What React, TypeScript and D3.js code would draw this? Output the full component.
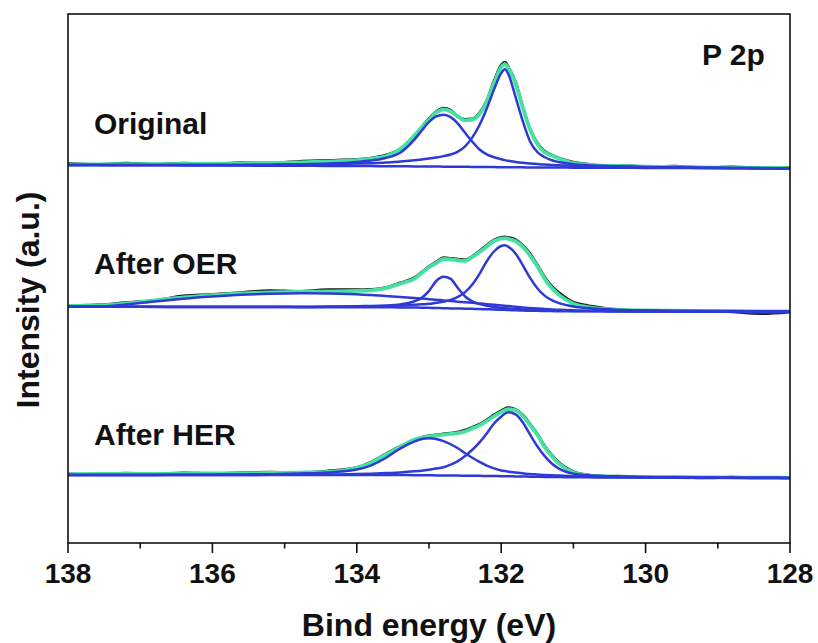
import React from "react";
import * as d3 from "d3";

// Binding energy grid (eV), descending
const energies = [138.0, 137.6, 137.2, 136.8, 136.4, 136.0, 135.6, 135.2, 134.8, 134.4, 134.0, 133.8, 133.6, 133.4, 133.2, 133.1, 133.0, 132.9, 132.8, 132.7, 132.6, 132.5, 132.4, 132.3, 132.2, 132.1, 132.0, 131.95, 131.9, 131.8, 131.7, 131.6, 131.5, 131.4, 131.3, 131.2, 131.0, 130.8, 130.6, 130.4, 130.0, 129.6, 129.2, 128.8, 128.4, 128.0];

// ---- Original (offset baseline, a.u.) ----
const originalBaseline = [378.0, 377.9, 377.8, 377.7, 377.6, 377.5, 377.4, 377.3, 377.2, 377.1, 377.0, 376.9, 376.8, 376.7, 376.6, 376.55, 376.5, 376.43, 376.37, 376.3, 376.23, 376.17, 376.1, 376.03, 375.97, 375.9, 375.83, 375.8, 375.77, 375.7, 375.63, 375.57, 375.5, 375.47, 375.44, 375.41, 375.36, 375.3, 375.24, 375.19, 375.07, 374.96, 374.84, 374.73, 374.61, 374.5];
const originalP32 = [0.05, 0.1, 0.12, 0.2, 0.28, 0.4, 0.55, 0.8, 1.15, 1.6, 2.4, 2.9, 3.6, 4.8, 6.2, 6.9, 7.9, 9.1, 10.5, 12.2, 15.2, 20.5, 29.5, 42, 58.5, 77.5, 94, 98, 93, 70, 46, 26, 15.5, 10.5, 7.3, 5.5, 3.5, 2.5, 1.9, 1.45, 0.95, 0.7, 0.5, 0.38, 0.3, 0.2];
const originalP12 = [0.1, 0.15, 0.2, 0.25, 0.35, 0.5, 0.7, 1.0, 1.5, 2.3, 4.1, 5.6, 8.2, 13.5, 27, 36, 44.6, 50.3, 52, 49.6, 43.2, 34, 25.2, 17.5, 12.7, 9.8, 7.9, 7.1, 6.4, 5.4, 4.6, 3.9, 3.4, 3.0, 2.6, 2.3, 1.9, 1.5, 1.2, 1.0, 0.7, 0.5, 0.4, 0.3, 0.2, 0.15];
const originalEnvelope = [0.5, 0.8, 1.0, 1.2, 1.4, 1.8, 2.3, 2.8, 3.5, 4.5, 5.8, 7.5, 10, 17, 31, 39, 47, 54, 57.3, 55.5, 50.3, 46.5, 47.3, 53, 65.5, 84, 100, 103, 99, 83.5, 59.3, 38, 23.5, 15.3, 12, 9, 4.5, 3.0, 2.2, 1.8, 1.2, 1.0, 0.8, 0.6, 0.5, 0.4];
const originalRaw = [1.5, 0.5, 2.0, 1.0, 2.2, 1.5, 3.0, 2.5, 4.5, 5.5, 6.5, 8.0, 11, 17.5, 30, 39.5, 48, 55, 58.5, 56.5, 50, 47.5, 48, 54, 66.5, 86, 102, 105, 100, 85, 60, 38.5, 24.5, 16.5, 12.5, 9.5, 5.5, 3.5, 2.0, 2.5, 1.2, 2.0, 0.5, 1.3, 0.4, 0.8];

// ---- After OER ----
const oerBaseline = [236.2, 236.2, 236.15, 236.1, 236.05, 236.0, 235.95, 235.9, 235.85, 235.8, 235.75, 235.7, 235.65, 235.6, 235.45, 235.3, 235.15, 235.0, 234.8, 234.6, 234.45, 234.3, 234.15, 233.95, 233.75, 233.5, 233.25, 233.15, 233.0, 232.75, 232.5, 232.3, 232.15, 232.0, 231.9, 231.85, 231.75, 231.7, 231.68, 231.65, 231.6, 231.58, 231.55, 231.53, 231.5, 231.5];
const oerP32 = [0, 0, 0.05, 0.1, 0.15, 0.2, 0.3, 0.35, 0.45, 0.65, 1.0, 1.3, 1.6, 2.0, 2.8, 3.4, 4.0, 5.2, 6.4, 8.5, 11.6, 16.6, 24.4, 35.2, 48, 58, 63.8, 64.5, 63.2, 56.6, 45.2, 32.8, 22.6, 15.4, 11, 8, 4.8, 3.2, 2.3, 1.7, 1.05, 0.7, 0.5, 0.35, 0.25, 0.2];
const oerP12 = [0, 0, 0, 0.05, 0.05, 0.1, 0.1, 0.15, 0.2, 0.35, 0.8, 1.1, 1.7, 3.0, 6.3, 10, 17, 27, 31.4, 29.5, 20.5, 12.2, 7.5, 4.9, 3.4, 2.6, 1.9, 1.8, 1.5, 1.15, 0.95, 0.8, 0.7, 0.6, 0.5, 0.45, 0.35, 0.25, 0.2, 0.15, 0.1, 0.05, 0.05, 0, 0, 0];
const oerBroad = [0, 0.2, 2.3, 5.5, 8.3, 10.5, 12.3, 13.4, 14, 13.8, 12.9, 12.3, 11.3, 10.5, 9.6, 9.2, 8.7, 8.3, 7.8, 7.4, 6.9, 6.5, 6.0, 5.6, 5.1, 4.7, 4.3, 4.1, 3.9, 3.5, 3.1, 2.7, 2.3, 2.0, 1.7, 1.4, 0.9, 0.5, 0.3, 0.1, 0, 0, 0, 0, 0, 0];
const oerEnvelope = [0.8, 1.2, 3.2, 6.5, 9.5, 11.8, 13.6, 14.7, 15.4, 15.8, 16.4, 17.0, 19.2, 23.7, 29, 34.7, 40.6, 45, 49.2, 49, 48.3, 47.7, 51.8, 57, 62.7, 68.5, 71.2, 71.6, 71.2, 69, 63.6, 55.2, 44.6, 32.5, 23, 16.3, 7.5, 4.2, 2.6, 1.8, 1.0, 0.7, 0.5, 0.3, 0.2, 0.1];
const oerRaw = [1.2, 1.8, 4.2, 6.5, 11, 12.5, 14.5, 16.5, 15.8, 17.5, 17.5, 18.0, 19.8, 24.5, 30, 35.5, 41.5, 46, 50.5, 50, 49.5, 48.8, 52.5, 58, 64, 69.5, 72.5, 73, 72.5, 70.5, 65, 57, 46, 34, 25, 18.5, 9, 5.8, 3.5, 1.5, 0.5, 0.2, 0.8, -0.5, -2.0, -0.5];

// ---- After HER ----
const herBaseline = [68, 68, 68, 68, 68, 68, 68, 68, 68, 68, 68, 68, 68, 67.95, 67.85, 67.75, 67.7, 67.6, 67.5, 67.45, 67.4, 67.3, 67.25, 67.15, 67.05, 66.95, 66.85, 66.8, 66.75, 66.6, 66.5, 66.35, 66.25, 66.1, 66.0, 65.9, 65.75, 65.65, 65.6, 65.55, 65.45, 65.35, 65.25, 65.15, 65.1, 65.0];
const herP32 = [0, 0, 0, 0.05, 0.05, 0.1, 0.1, 0.15, 0.3, 0.5, 0.9, 1.3, 1.9, 2.6, 3.8, 4.6, 5.6, 6.8, 8.2, 11, 14.5, 19.7, 26, 33.5, 42.5, 52.5, 59.5, 62.5, 64, 62, 54, 42, 30.5, 21, 13.5, 8.5, 3.6, 2.2, 1.5, 1.1, 0.6, 0.4, 0.25, 0.2, 0.15, 0.1];
const herP12 = [0, 0.05, 0.05, 0.1, 0.25, 0.35, 0.55, 0.85, 1.5, 2.5, 5.4, 9.7, 17, 26.5, 33.7, 36.2, 37, 36.4, 34.3, 31.3, 27.4, 22.5, 18, 13.9, 10.3, 7.7, 5.7, 5.1, 4.6, 3.9, 3.2, 2.65, 2.3, 1.95, 1.75, 1.55, 1.1, 0.9, 0.7, 0.55, 0.35, 0.25, 0.2, 0.15, 0.1, 0.1];
const herEnvelope = [0.8, 1.0, 1.2, 1.2, 1.4, 1.6, 1.8, 2.0, 2.4, 3.2, 7.2, 12.3, 20.5, 28, 35.5, 37.5, 39, 39.8, 40.8, 41.7, 42.5, 44.2, 47.3, 50.5, 54.8, 59.8, 64, 66, 67.2, 66.2, 60.5, 51.6, 42, 30, 21, 13.5, 4.8, 2.0, 1.2, 0.9, 0.6, 0.5, 0.4, 0.3, 0.2, 0.2];
const herRaw = [1.2, 0.5, 1.8, 1.0, 2.2, 1.4, 2.3, 2.8, 2.2, 4.0, 7.5, 13, 21, 28.5, 35, 38, 39.5, 40.5, 41.5, 42.5, 43.5, 45.5, 48.5, 51.5, 56, 61, 65.5, 67.5, 68.5, 67, 61.5, 52.5, 43, 31, 22, 14.5, 5.5, 2.5, 0.5, 1.3, 0.2, 0.8, -0.2, 0.6, 0.0, 0.3];

const majorTicks = [138, 136, 134, 132, 130, 128];
const minorTicks = [137, 135, 133, 131, 129];
const sampleNames = ["Original", "After OER", "After HER"];
const coreLevel = "P 2p";
const xTitle = "Bind energy (eV)";
const yTitle = "Intensity (a.u.)";

const spectra = [
  { name: sampleNames[0], base: originalBaseline, comps: [originalP32, originalP12], env: originalEnvelope, raw: originalRaw },
  { name: sampleNames[1], base: oerBaseline, comps: [oerP32, oerP12, oerBroad], env: oerEnvelope, raw: oerRaw },
  { name: sampleNames[2], base: herBaseline, comps: [herP32, herP12], env: herEnvelope, raw: herRaw },
];

const W = 818;
const H = 643;
const M = { left: 68, right: 790, top: 14, bottom: 543 };
const FONT = "'Liberation Sans', Arial, Helvetica, sans-serif";
const BLUE = "#2f3ad6";
const GREEN = "#45e0a2";
const BLACK = "#141414";

export default function App() {
  const x = d3.scaleLinear().domain([138, 128]).range([M.left, M.right]);
  const y = d3.scaleLinear().domain([0, 529]).range([M.bottom, M.top]);
  const line = d3
    .line<number>()
    .x((_, i) => x(energies[i]))
    .y((v) => y(v))
    .curve(d3.curveMonotoneX);

  const labelY = [133.5, 273.5, 445];

  return (
    <svg
      width={W}
      height={H}
      style={{ position: "absolute", left: 0, top: 0, background: "#fff" }}
      fontFamily={FONT}
    >
      <rect x={0} y={0} width={W} height={H} fill="#fff" />
      {spectra.map((s, k) => (
        <g key={k}>
          <path d={line(s.raw.map((v, i) => v + s.base[i])) || ""} fill="none" stroke={BLACK} strokeWidth={2.8} strokeLinejoin="round" />
          <path d={line(s.env.map((v, i) => v + s.base[i])) || ""} fill="none" stroke={GREEN} strokeWidth={3.8} strokeLinejoin="round" />
          <path d={line(s.base) || ""} fill="none" stroke={BLUE} strokeWidth={2.5} />
          {s.comps.map((c, j) => (
            <path key={j} d={line(c.map((v, i) => v + s.base[i])) || ""} fill="none" stroke={BLUE} strokeWidth={2.5} strokeLinejoin="round" />
          ))}
          <text x={94} y={labelY[k]} fontSize={30} fontWeight="bold" fill="#111">
            {s.name}
          </text>
        </g>
      ))}
      <text x={702} y={64.5} fontSize={30} fontWeight="bold" fill="#111">
        {coreLevel}
      </text>
      {/* frame */}
      <rect x={M.left} y={M.top} width={M.right - M.left} height={M.bottom - M.top} fill="none" stroke="#111" strokeWidth={1.6} />
      {majorTicks.map((t) => (
        <g key={t}>
          <line x1={x(t)} x2={x(t)} y1={M.bottom} y2={M.bottom + 10} stroke="#111" strokeWidth={1.6} />
          <text x={x(t)} y={583} fontSize={28} fontWeight="bold" textAnchor="middle" fill="#111">
            {t}
          </text>
        </g>
      ))}
      {minorTicks.map((t) => (
        <line key={t} x1={x(t)} x2={x(t)} y1={M.bottom} y2={M.bottom + 5.5} stroke="#111" strokeWidth={1.6} />
      ))}
      <text x={(M.left + M.right) / 2} y={636} fontSize={32} fontWeight="bold" textAnchor="middle" fill="#111">
        {xTitle}
      </text>
      <text transform="translate(39,300) rotate(-90)" fontSize={32} fontWeight="bold" textAnchor="middle" fill="#111">
        {yTitle}
      </text>
    </svg>
  );
}
